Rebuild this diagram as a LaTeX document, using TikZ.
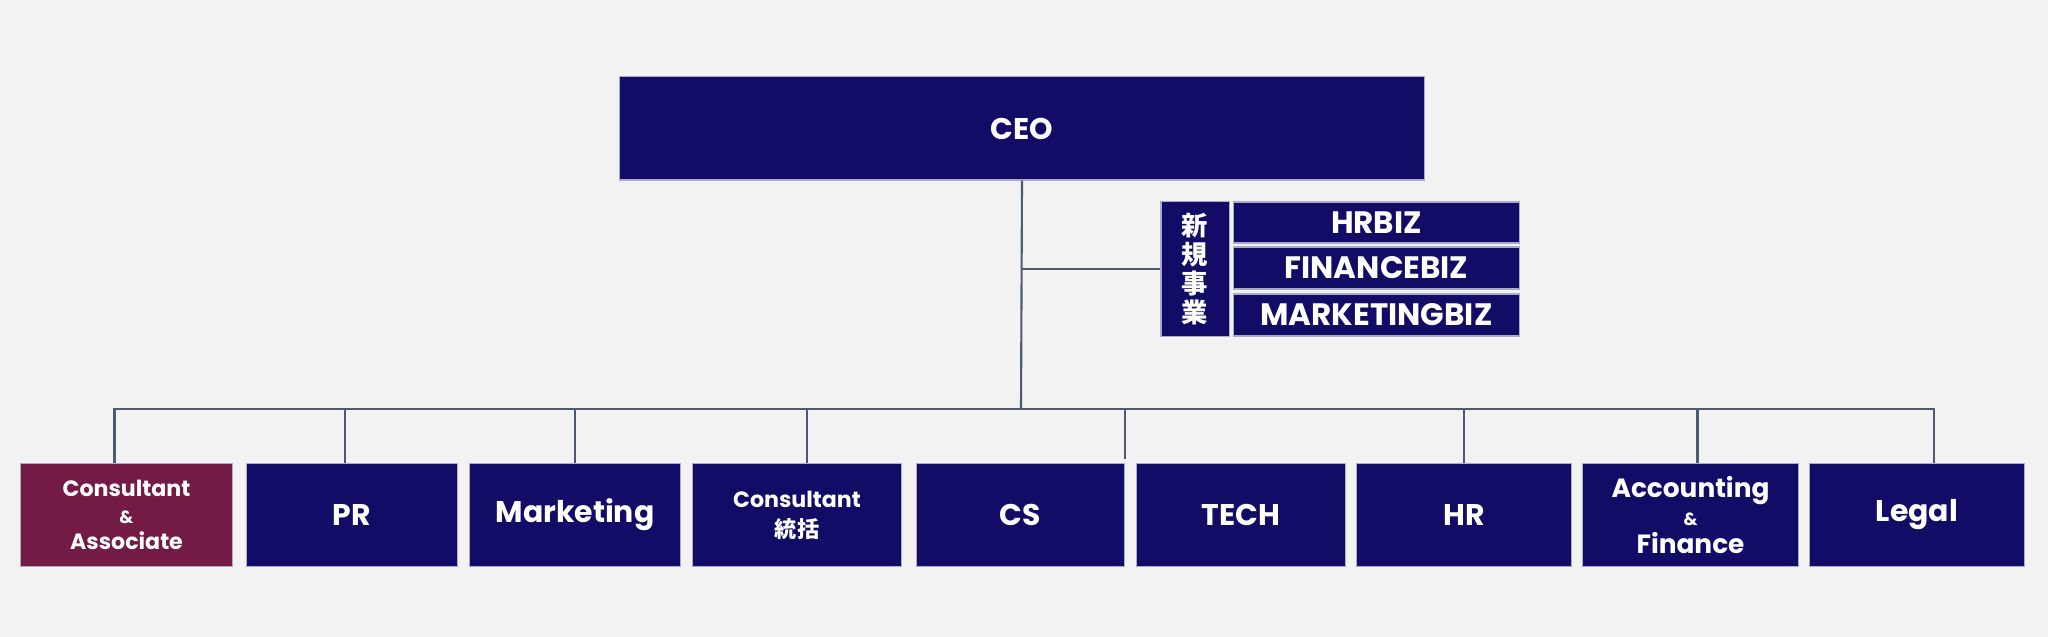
\documentclass[tikz,border=0pt]{standalone}
\usepackage{fontspec}
\setmainfont{Poppins}
\newfontfamily\cjk{Noto Sans CJK JP}
\definecolor{navy}{RGB}{18,12,102}
\definecolor{wine}{RGB}{115,27,69}
\definecolor{paper}{RGB}{242,242,242}
\definecolor{wire}{RGB}{78,90,110}

\begin{document}
\begin{tikzpicture}[x=0.01cm, y=-0.01cm,
  unit/.style={draw=navy!35, line width=0.3pt, fill=navy, text=white, align=center, inner sep=0pt},
  dept/.style={unit, minimum height=1.02cm, font=\bfseries\fontsize{8.5}{10}\selectfont},
  biz/.style={unit, minimum width=2.85cm, minimum height=0.42cm, font=\bfseries\fontsize{8.8}{9}\selectfont},
  link/.style={draw=wire, line width=0.6pt}]
\fill[paper] (0,0) rectangle (2048,637);

\draw (1022,128.5) node[dept, minimum width=8.04cm, minimum height=1.03cm] (ceo) {CEO};

\draw (1195,269) node[unit, minimum width=0.68cm, minimum height=1.34cm, font=\cjk\bfseries\fontsize{7.5}{8.2}\selectfont] (new) {新\\規\\事\\業};
\draw (1376.5,222.5) node[biz, minimum height=0.41cm] (hrbiz) {HRBIZ};
\draw (1376.5,268) node[biz] (financebiz) {FINANCEBIZ};
\draw (1376.5,315) node[biz] (marketingbiz) {MARKETINGBIZ};

\draw (126.5,515) node[dept, minimum width=2.11cm, fill=wine, font=\bfseries\fontsize{6.3}{7.5}\selectfont] (ca) {Consultant\\{\fontsize{5}{6.2}\selectfont\&}\\Associate};
\draw (352,515) node[dept, minimum width=2.1cm] (pr) {PR};
\draw (575,515) node[dept, minimum width=2.1cm] (mkt) {Marketing};
\draw (797,515) node[dept, minimum width=2.08cm, font=\bfseries\fontsize{6.3}{8.5}\selectfont] (cons) {Consultant\\{\cjk\bfseries 統括}};
\draw (1020.5,515) node[dept, minimum width=2.07cm] (cs) {CS};
\draw (1241,515) node[dept, minimum width=2.08cm] (tech) {TECH};
\draw (1464,515) node[dept, minimum width=2.14cm] (hr) {HR};
\draw (1690.5,515) node[dept, minimum width=2.15cm, font=\bfseries\fontsize{7.5}{8}\selectfont] (acc) {Accounting\\{\fontsize{5}{6.2}\selectfont\&}\\Finance};
\draw (1917,515) node[dept, minimum width=2.14cm] (legal) {Legal};

% trunk and branch
\coordinate (bus) at (1021,409);
\draw[link] (ceo.south) -- (bus);
\draw[link] (ceo.south |- new.west) -- (new.west);

% drops to the departments
\draw[link] (ca.north) ++(-12,0) |- (bus);
\draw[link] (pr.north) ++(-7,0) |- (bus);
\draw[link] (mkt.north) |- (bus);
\draw[link] (cons.north) ++(10,0) |- (bus);
\draw[link] ([yshift=0.04cm]cs.north east) |- (bus);
\draw[link] (hr.north) |- (bus);
\draw[link] (acc.north) ++(7,0) |- (bus);
\draw[link] (legal.north) ++(17,0) |- (bus);

\end{tikzpicture}
\end{document}
